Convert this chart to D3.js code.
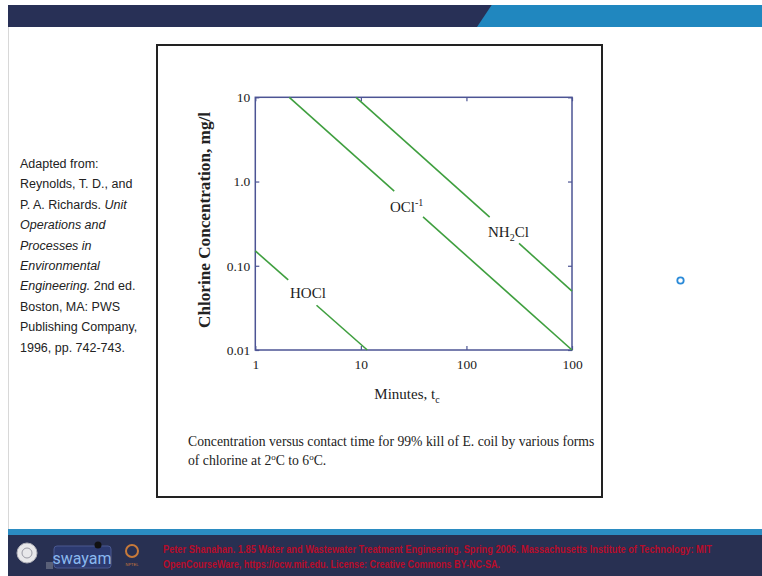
<!DOCTYPE html>
<html>
<head>
<meta charset="utf-8">
<script src="https://cdn.jsdelivr.net/npm/d3@7"></script>
<style>
  body { margin: 0; background: #fff; }
  svg { display: block; }
</style>
</head>
<body>
<div id="chart"></div>
<script>
// values (minutes vs mg/l, log-log)
const xTicks = [1, 10, 100, 1000];
const xTickLabels = ["1", "10", "100", "100"];
const yTicks = [0.01, 0.1, 1, 10];
const yTickLabels = ["0.01", "0.10", "1.0", "10"];

// each curve: start, gap start, gap end, end (gap is where the label sits)
const hoclTime = [1, 2.05, 3.8, 11.5];
const hoclConc = [0.15, 0.068, 0.034, 0.01];
const oclTime = [2.1, 20.7, 38.8, 1000];
const oclConc = [10, 0.77, 0.38, 0.01];
const nh2clTime = [9, 166, 315, 1000];
const nh2clConc = [10, 0.377, 0.184, 0.05];

const leftNote = [
  [["Adapted from:", false]],
  [["Reynolds, T. D., and", false]],
  [["P. A. Richards. ", false], ["Unit", true]],
  [["Operations and", true]],
  [["Processes in", true]],
  [["Environmental", true]],
  [["Engineering.", true], [" 2nd ed.", false]],
  [["Boston, MA: PWS", false]],
  [["Publishing Company,", false]],
  [["1996, pp. 742-743.", false]]
];

const footerLines = [
  "Peter Shanahan. 1.85 Water and Wastewater Treatment Engineering. Spring 2006. Massachusetts Institute of Technology: MIT",
  "OpenCourseWare, https://ocw.mit.edu. License: Creative Commons BY-NC-SA."
];
const footerWidths = [549, 337];

const W = 762, H = 576;
const svg = d3.select('#chart').append('svg')
  .attr('width', W)
  .attr('height', H);

// slide chrome
svg.append('rect').attr('x', 0).attr('y', 0).attr('width', W).attr('height', H).attr('fill', '#fff');
svg.append('line').attr('x1', 8.5).attr('x2', 8.5).attr('y1', 27).attr('y2', 529)
  .attr('stroke', '#d8d8d8').attr('stroke-width', 1);
svg.append('rect').attr('x', 8).attr('y', 5).attr('width', W - 8).attr('height', 22).attr('fill', '#283056');
svg.append('path').attr('d', `M491.7,5 L${W},5 L${W},27 L477,27 Z`).attr('fill', '#2087bf');

svg.append('rect').attr('x', 8).attr('y', 529).attr('width', W - 8).attr('height', 6).attr('fill', '#2b8cc2');
svg.append('rect').attr('x', 8).attr('y', 535).attr('width', W - 8).attr('height', H - 535).attr('fill', '#283052');

// footer logos
svg.append('circle').attr('cx', 27).attr('cy', 553).attr('r', 10).attr('fill', '#e8e8ea').attr('stroke', '#b0b0b8');
svg.append('circle').attr('cx', 27).attr('cy', 553).attr('r', 5).attr('fill', 'none').attr('stroke', '#9a9aa4');
svg.append('rect').attr('x', 46).attr('y', 562).attr('width', 7).attr('height', 7).attr('fill', '#5a6078');
svg.append('rect').attr('x', 54).attr('y', 546).attr('width', 57).attr('height', 22).attr('rx', 3)
  .attr('fill', '#2c3a70').attr('stroke', '#4a5890');
svg.append('text').attr('x', 82).attr('y', 564).attr('text-anchor', 'middle')
  .attr('font-family', 'Roboto, sans-serif').attr('font-size', 16)
  .attr('fill', '#8ab8ee').text('swayam');
svg.append('circle').attr('cx', 98).attr('cy', 545).attr('r', 3.5).attr('fill', '#111');
svg.append('circle').attr('cx', 132).attr('cy', 551).attr('r', 6).attr('fill', 'none')
  .attr('stroke', '#c87a3a').attr('stroke-width', 2);
svg.append('text').attr('x', 132).attr('y', 566).attr('text-anchor', 'middle')
  .attr('font-family', 'sans-serif').attr('font-size', 4).attr('fill', '#c87a3a').text('NPTEL');

// condensed red credit lines: squeeze horizontally so they stay inside the bar
const squeeze = 0.7;
svg.selectAll('.footer').data(footerLines).enter().append('text')
  .attr('class', 'footer')
  .attr('transform', (d, i) => `translate(163,${553 + i * 15}) scale(${squeeze},1)`)
  .attr('textLength', (d, i) => footerWidths[i] / squeeze)
  .attr('lengthAdjust', 'spacingAndGlyphs')
  .attr('font-family', '"Liberation Sans", sans-serif')
  .attr('font-size', 11.5)
  .attr('font-weight', 'bold')
  .attr('fill', '#b80c2a')
  .text(d => d);

// little circle on the right of the slide
svg.append('circle').attr('cx', 680.5).attr('cy', 280.5).attr('r', 3.2)
  .attr('fill', 'none').attr('stroke', '#2a8ad8').attr('stroke-width', 1.8);

// source note on the left
const note = svg.append('text')
  .attr('font-family', '"Liberation Sans", Arial, sans-serif')
  .attr('font-size', 12.5)
  .attr('fill', '#222');
leftNote.forEach((line, i) => {
  line.forEach((part, j) => {
    const t = note.append('tspan').text(part[0]);
    if (j === 0) t.attr('x', 20).attr('y', 168 + i * 20.4);
    if (part[1]) t.attr('font-style', 'italic');
  });
});

// figure frame
svg.append('rect').attr('x', 157).attr('y', 45).attr('width', 445).attr('height', 452)
  .attr('fill', 'none').attr('stroke', '#222').attr('stroke-width', 2);

// plot
const plot = { left: 255.3, right: 572, top: 97.3, bottom: 350 };
const x = d3.scaleLog().domain([1, 1000]).range([plot.left, plot.right]);
const y = d3.scaleLog().domain([0.01, 10]).range([plot.bottom, plot.top]);
const axisColor = '#4c5494';
const serif = '"Liberation Serif", "Times New Roman", serif';

const g = svg.append('g');

const styleAxis = sel => {
  sel.select('.domain').remove();
  sel.selectAll('.tick line').attr('stroke', axisColor).attr('stroke-width', 1.2);
  sel.selectAll('.tick text').attr('fill', '#222')
    .attr('font-family', serif).attr('font-size', 13.5);
};

g.append('g').attr('transform', `translate(0,${plot.bottom})`)
  .call(d3.axisBottom(x).tickValues(xTicks).tickSize(-4).tickPadding(9)
    .tickFormat((d, i) => xTickLabels[i]))
  .call(styleAxis);
g.append('g').attr('transform', `translate(0,${plot.top})`)
  .call(d3.axisTop(x).tickValues(xTicks).tickSize(-4).tickFormat(''))
  .call(styleAxis);
g.append('g').attr('transform', `translate(${plot.left},0)`)
  .call(d3.axisLeft(y).tickValues(yTicks).tickSize(-4).tickPadding(5)
    .tickFormat((d, i) => yTickLabels[i]))
  .call(styleAxis);
g.append('g').attr('transform', `translate(${plot.right},0)`)
  .call(d3.axisRight(y).tickValues(yTicks).tickSize(-4).tickFormat(''))
  .call(styleAxis);

g.append('rect')
  .attr('x', plot.left).attr('y', plot.top)
  .attr('width', plot.right - plot.left).attr('height', plot.bottom - plot.top)
  .attr('fill', 'none').attr('stroke', axisColor).attr('stroke-width', 1.5);

// curves, each split around its label
const curves = [
  [hoclTime, hoclConc],
  [oclTime, oclConc],
  [nh2clTime, nh2clConc]
];
const line = d3.line().x(d => x(d[0])).y(d => y(d[1]));
curves.forEach(([ts, cs]) => {
  const pts = ts.map((t, i) => [t, cs[i]]);
  [pts.slice(0, 2), pts.slice(2, 4)].forEach(seg => {
    g.append('path').attr('d', line(seg))
      .attr('fill', 'none').attr('stroke', '#3f9f3f').attr('stroke-width', 1.6);
  });
});

// curve labels
const lab = (px, py) => g.append('text').attr('x', px).attr('y', py)
  .attr('font-family', serif).attr('font-size', 15).attr('fill', '#222');

lab(290, 298).text('HOCl');
const ocl = lab(390, 212);
ocl.append('tspan').text('OCl');
ocl.append('tspan').attr('dy', -6).attr('font-size', 10).text('-1');
const nh = lab(488, 237);
nh.append('tspan').text('NH');
nh.append('tspan').attr('dy', 4).attr('font-size', 10).text('2');
nh.append('tspan').attr('dy', -4).text('Cl');

// axis titles
const xt = svg.append('text').attr('x', 407).attr('y', 399).attr('text-anchor', 'middle')
  .attr('font-family', serif).attr('font-size', 15).attr('fill', '#222');
xt.append('tspan').text('Minutes, t');
xt.append('tspan').attr('dy', 4).attr('font-size', 10).text('c');

svg.append('text')
  .attr('transform', 'translate(210,220) rotate(-90)')
  .attr('text-anchor', 'middle')
  .attr('font-family', serif).attr('font-size', 16).attr('font-weight', 'bold')
  .attr('textLength', 216).attr('lengthAdjust', 'spacingAndGlyphs')
  .attr('fill', '#222')
  .text('Chlorine Concentration, mg/l');

// caption
const cap = svg.append('text')
  .attr('font-family', serif).attr('font-size', 13.7).attr('fill', '#222');
cap.append('tspan').attr('x', 188).attr('y', 446)
  .text('Concentration versus contact time for 99% kill of E. coil by various forms');
const c2 = cap.append('tspan').attr('x', 188).attr('y', 465);
c2.append('tspan').text('of chlorine at 2');
c2.append('tspan').attr('dy', -5).attr('font-size', 9).text('o');
c2.append('tspan').attr('dy', 5).text('C to 6');
c2.append('tspan').attr('dy', -5).attr('font-size', 9).text('o');
c2.append('tspan').attr('dy', 5).text('C.');
</script>
</body>
</html>
